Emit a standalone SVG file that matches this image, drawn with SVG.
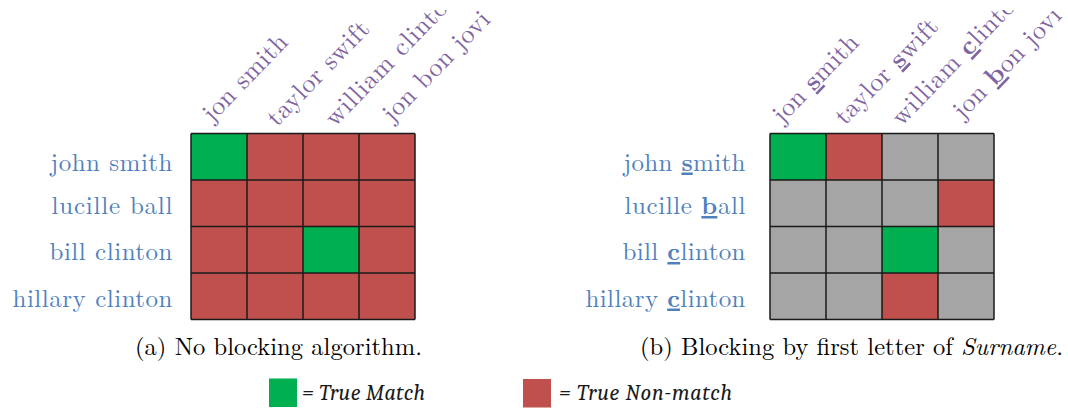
<svg xmlns="http://www.w3.org/2000/svg" width="1068" height="409" viewBox="0 0 1068 409">
<style>
.bg{fill:#ffffff}
.g{fill:#00b050}
.r{fill:#c0504d}
.x{fill:#a5a5a5}
.ln{stroke:#1a1a1a;stroke-width:1.5;fill:none}
.row{font-family:'Latin Modern Roman','CMU Serif',serif;font-size:25px;fill:#4f81bd;text-anchor:end}
.col{font-family:'Latin Modern Roman','CMU Serif',serif;font-size:26px;fill:#8064a2}
.b{font-weight:bold;text-decoration:underline}
.cap{font-family:'Latin Modern Roman','CMU Serif',serif;font-size:24.5px;fill:#000}
.leg{font-family:Caladea,'Latin Modern Roman',serif;font-size:22px;font-style:italic;fill:#1a1a1a}
</style>
<defs>
<clipPath id="topclip"><rect x="0" y="10" width="1068" height="399"/></clipPath>
</defs>
<rect class="bg" x="0" y="0" width="1068" height="409"/>

<g id="grid-a">
<rect class="g" x="191" y="133.5" width="56" height="46.5"/>
<rect class="r" x="247" y="133.5" width="56" height="46.5"/>
<rect class="r" x="303" y="133.5" width="56" height="46.5"/>
<rect class="r" x="359" y="133.5" width="56" height="46.5"/>
<rect class="r" x="191" y="180" width="56" height="46.5"/>
<rect class="r" x="247" y="180" width="56" height="46.5"/>
<rect class="r" x="303" y="180" width="56" height="46.5"/>
<rect class="r" x="359" y="180" width="56" height="46.5"/>
<rect class="r" x="191" y="226.5" width="56" height="46.5"/>
<rect class="r" x="247" y="226.5" width="56" height="46.5"/>
<rect class="g" x="303" y="226.5" width="56" height="46.5"/>
<rect class="r" x="359" y="226.5" width="56" height="46.5"/>
<rect class="r" x="191" y="273" width="56" height="46.5"/>
<rect class="r" x="247" y="273" width="56" height="46.5"/>
<rect class="r" x="303" y="273" width="56" height="46.5"/>
<rect class="r" x="359" y="273" width="56" height="46.5"/>
<path class="ln" d="M191 133.5H415M191 180H415M191 226.5H415M191 273H415M191 319.5H415M191 133.5V319.5M247 133.5V319.5M303 133.5V319.5M359 133.5V319.5M415 133.5V319.5"/>
</g>

<g id="rows-a">
<text class="row" x="172.5" y="170.5" textLength="122">john smith</text>
<text class="row" x="172.5" y="214" textLength="121">lucille ball</text>
<text class="row" x="172.5" y="260" textLength="123">bill clinton</text>
<text class="row" x="172.5" y="306.5" textLength="160">hillary clinton</text>
</g>

<g id="cols-a" clip-path="url(#topclip)">
<text class="col" x="212.4" y="123" textLength="110.7" transform="rotate(-46 212.4 123)">jon smith</text>
<text class="col" x="277" y="127.5" textLength="135.2" transform="rotate(-46 277 127.5)">taylor swift</text>
<text class="col" x="335" y="127.5" textLength="179.4" transform="rotate(-46 335 127.5)">william clinton</text>
<text class="col" x="392.4" y="123.3" textLength="142.6" transform="rotate(-46 392.4 123.3)">jon bon jovi</text>
</g>

<g id="grid-b">
<rect class="g" x="770" y="133.5" width="56" height="46.5"/>
<rect class="r" x="826" y="133.5" width="56" height="46.5"/>
<rect class="x" x="882" y="133.5" width="56" height="46.5"/>
<rect class="x" x="938" y="133.5" width="56" height="46.5"/>
<rect class="x" x="770" y="180" width="56" height="46.5"/>
<rect class="x" x="826" y="180" width="56" height="46.5"/>
<rect class="x" x="882" y="180" width="56" height="46.5"/>
<rect class="r" x="938" y="180" width="56" height="46.5"/>
<rect class="x" x="770" y="226.5" width="56" height="46.5"/>
<rect class="x" x="826" y="226.5" width="56" height="46.5"/>
<rect class="g" x="882" y="226.5" width="56" height="46.5"/>
<rect class="x" x="938" y="226.5" width="56" height="46.5"/>
<rect class="x" x="770" y="273" width="56" height="46.5"/>
<rect class="x" x="826" y="273" width="56" height="46.5"/>
<rect class="r" x="882" y="273" width="56" height="46.5"/>
<rect class="x" x="938" y="273" width="56" height="46.5"/>
<path class="ln" d="M770 133.5H994M770 180H994M770 226.5H994M770 273H994M770 319.5H994M770 133.5V319.5M826 133.5V319.5M882 133.5V319.5M938 133.5V319.5M994 133.5V319.5"/>
</g>

<g id="rows-b">
<text class="row" x="745.5" y="170.5" textLength="122">john <tspan class="b">s</tspan>mith</text>
<text class="row" x="745.5" y="214" textLength="121">lucille <tspan class="b">b</tspan>all</text>
<text class="row" x="745.5" y="260" textLength="123">bill <tspan class="b">c</tspan>linton</text>
<text class="row" x="745.5" y="306.5" textLength="160">hillary <tspan class="b">c</tspan>linton</text>
</g>

<g id="cols-b" clip-path="url(#topclip)">
<text class="col" x="782.4" y="124.3" textLength="112" transform="rotate(-46 782.4 124.3)">jon <tspan class="b">s</tspan>mith</text>
<text class="col" x="845" y="126" textLength="136.5" transform="rotate(-46 845 126)">taylor <tspan class="b">s</tspan>wift</text>
<text class="col" x="901.7" y="126.7" textLength="180.5" transform="rotate(-46 901.7 126.7)">william <tspan class="b">c</tspan>linton</text>
<text class="col" x="963" y="120" textLength="143.5" transform="rotate(-46 963 120)">jon <tspan class="b">b</tspan>on jovi</text>
</g>

<g id="captions">
<text class="cap" x="135" y="355" textLength="287">(a) No blocking algorithm.</text>
<text class="cap" x="640" y="355" textLength="423">(b) Blocking by first letter of <tspan font-style="italic">Surname</tspan>.</text>
</g>

<g id="legend">
<rect class="g" x="269" y="378.5" width="28" height="28.5"/>
<text class="leg" x="302" y="400" textLength="123">= True Match</text>
<rect class="r" x="523" y="379" width="28" height="28.5"/>
<text class="leg" x="559" y="400" textLength="173">= True Non-match</text>
</g>
</svg>
